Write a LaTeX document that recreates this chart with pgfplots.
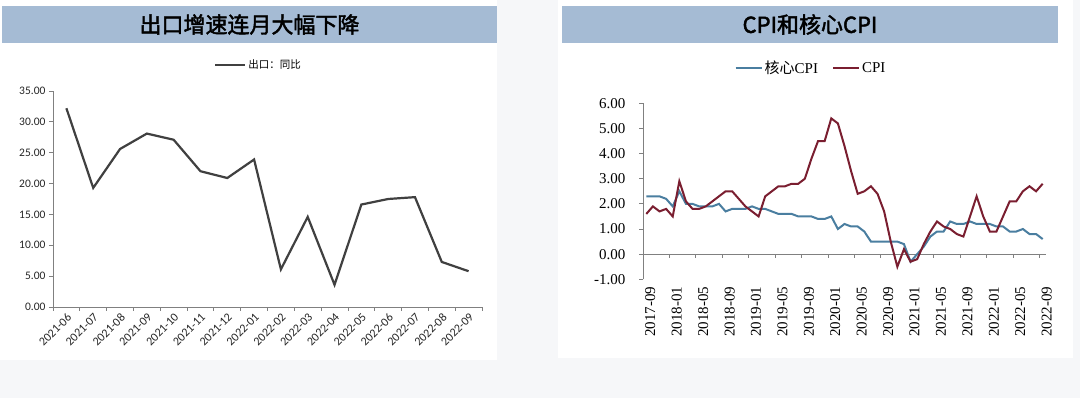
\documentclass[border=0pt]{standalone}
\usepackage{fontspec}
\setmainfont{Liberation Serif}
\newfontfamily\cjk{Noto Sans CJK SC}
\newfontfamily\cjkb{Noto Sans CJK SC}[FakeBold=2]
\newfontfamily\carl{Carlito}
\usepackage{pgfplots}
\usepackage{pgfplotstable}
\pgfplotsset{compat=1.18}
\definecolor{banner}{RGB}{165,187,212}
\definecolor{bgray}{RGB}{246,247,249}
\definecolor{exportline}{RGB}{64,64,64}
\definecolor{coreblue}{RGB}{74,126,160}
\definecolor{cpired}{RGB}{122,30,48}
\definecolor{axgray}{RGB}{128,128,128}

\pgfplotstableread{
i v
0 32.2
1 19.3
2 25.6
3 28.1
4 27.1
5 22.0
6 20.9
7 23.9
8 6.1
9 14.6
10 3.6
11 16.6
12 17.5
13 17.8
14 7.3
15 5.8
}\exportdata

\pgfplotstableread{
i core cpi
0 2.3 1.6
1 2.3 1.9
2 2.3 1.7
3 2.2 1.8
4 1.9 1.5
5 2.5 2.9
6 2.0 2.1
7 2.0 1.8
8 1.9 1.8
9 1.9 1.9
10 1.9 2.1
11 2.0 2.3
12 1.7 2.5
13 1.8 2.5
14 1.8 2.2
15 1.8 1.9
16 1.9 1.7
17 1.8 1.5
18 1.8 2.3
19 1.7 2.5
20 1.6 2.7
21 1.6 2.7
22 1.6 2.8
23 1.5 2.8
24 1.5 3.0
25 1.5 3.8
26 1.4 4.5
27 1.4 4.5
28 1.5 5.4
29 1.0 5.2
30 1.2 4.3
31 1.1 3.3
32 1.1 2.4
33 0.9 2.5
34 0.5 2.7
35 0.5 2.4
36 0.5 1.7
37 0.5 0.5
38 0.5 -0.5
39 0.4 0.2
40 -0.3 -0.3
41 0.0 -0.2
42 0.3 0.4
43 0.7 0.9
44 0.9 1.3
45 0.9 1.1
46 1.3 1.0
47 1.2 0.8
48 1.2 0.7
49 1.3 1.5
50 1.2 2.3
51 1.2 1.5
52 1.2 0.9
53 1.1 0.9
54 1.1 1.5
55 0.9 2.1
56 0.9 2.1
57 1.0 2.5
58 0.8 2.7
59 0.8 2.5
60 0.6 2.8
}\cpidata

\begin{document}
\begin{tikzpicture}
\path[use as bounding box, fill=bgray] (0pt,0pt) rectangle (1080pt,398pt);
\fill[white] (0pt,38pt) rectangle (497pt,398pt);
\fill[white] (558pt,40pt) rectangle (1073pt,398pt);
\fill[banner] (2pt,355pt) rectangle (497pt,392pt);
\fill[banner] (562pt,355pt) rectangle (1058pt,392pt);
\node[font=\cjkb\fontsize{22}{22}\selectfont] at (249.5pt,373.5pt) {出口增速连月大幅下降};
\node[font=\cjkb\fontsize{22}{22}\selectfont] at (810pt,373.5pt) {CPI和核心CPI};

\begin{axis}[
  at={(53pt,91pt)}, anchor=south west, scale only axis,
  width=429pt, height=216pt,
  xmin=-0.5, xmax=15.5, ymin=0, ymax=35,
  axis lines=left, axis line style={-, draw=axgray, line width=0.8pt},
  tick align=outside,
  tick style={draw=axgray, line width=0.8pt},
  major tick length=4pt, minor tick length=4pt,
  xtick={0,...,15},
  xticklabels={2021-06,2021-07,2021-08,2021-09,2021-10,2021-11,2021-12,2022-01,2022-02,2022-03,2022-04,2022-05,2022-06,2022-07,2022-08,2022-09},
  major x tick style={draw=none},
  minor xtick={-0.5,0.5,...,15.5},
  ytick={0,5,...,35},
  yticklabels={0.00,5.00,10.00,15.00,20.00,25.00,30.00,35.00},
  xticklabel style={rotate=45, anchor=north east, font=\carl\fontsize{12}{12}\selectfont, inner sep=1pt, text=black!85},
  yticklabel style={font=\carl\fontsize{11.5}{11.5}\selectfont, text=black!85},
  legend style={at={(0.479,1.12)}, anchor=center, draw=none, fill=none,
    font=\cjk\fontsize{10.5}{10.5}\selectfont},
  legend image code/.code={\draw[#1] (0pt,0pt) -- (30pt,0pt);},
  clip=false
]
\addplot[exportline, line width=2.2pt] table[x=i, y=v] {\exportdata};
\legend{出口：同比}
\end{axis}

\begin{axis}[
  at={(643pt,118.7pt)}, anchor=south west, scale only axis,
  width=403pt, height=176pt,
  xmin=-0.5, xmax=60.5, ymin=-1, ymax=6,
  axis lines=left, axis line style={-},
  x axis line style={draw=none},
  y axis line style={draw=axgray, line width=0.8pt},
  tick align=outside,
  tick style={draw=axgray, line width=0.8pt},
  major tick length=4pt,
  xtick={0,4,...,60},
  xticklabels={2017-09,2018-01,2018-05,2018-09,2019-01,2019-05,2019-09,2020-01,2020-05,2020-09,2021-01,2021-05,2021-09,2022-01,2022-05,2022-09},
  major x tick style={draw=none},
  ytick={-1,0,...,6},
  yticklabels={-1.00,0.00,1.00,2.00,3.00,4.00,5.00,6.00},
  xticklabel style={rotate=90, anchor=east, font=\fontsize{15}{15}\selectfont, yshift=-4pt},
  yticklabel style={font=\fontsize{15}{15}\selectfont, xshift=-10pt},
  legend style={at={(0.417,1.2)}, anchor=center, draw=none, fill=none,
    legend columns=2, font=\fontsize{15}{15}\selectfont,
    /tikz/every even column/.append style={column sep=12pt}},
  legend image code/.code={\draw[#1] (0pt,0pt) -- (26pt,0pt);},
  clip=false
]
\draw[axgray, line width=0.8pt] (axis cs:-0.5,0) -- (axis cs:60.5,0);
\pgfplotsinvokeforeach{-0.5,3.5,...,60.5}{\draw[axgray, line width=0.8pt] (axis cs:#1,0) -- ++(0pt,-4pt);}
\addplot[coreblue, line width=2pt] table[x=i, y=core] {\cpidata};
\addplot[cpired, line width=2pt] table[x=i, y=cpi] {\cpidata};
\legend{{\cjk 核心}CPI, CPI}
\end{axis}
\end{tikzpicture}
\end{document}
